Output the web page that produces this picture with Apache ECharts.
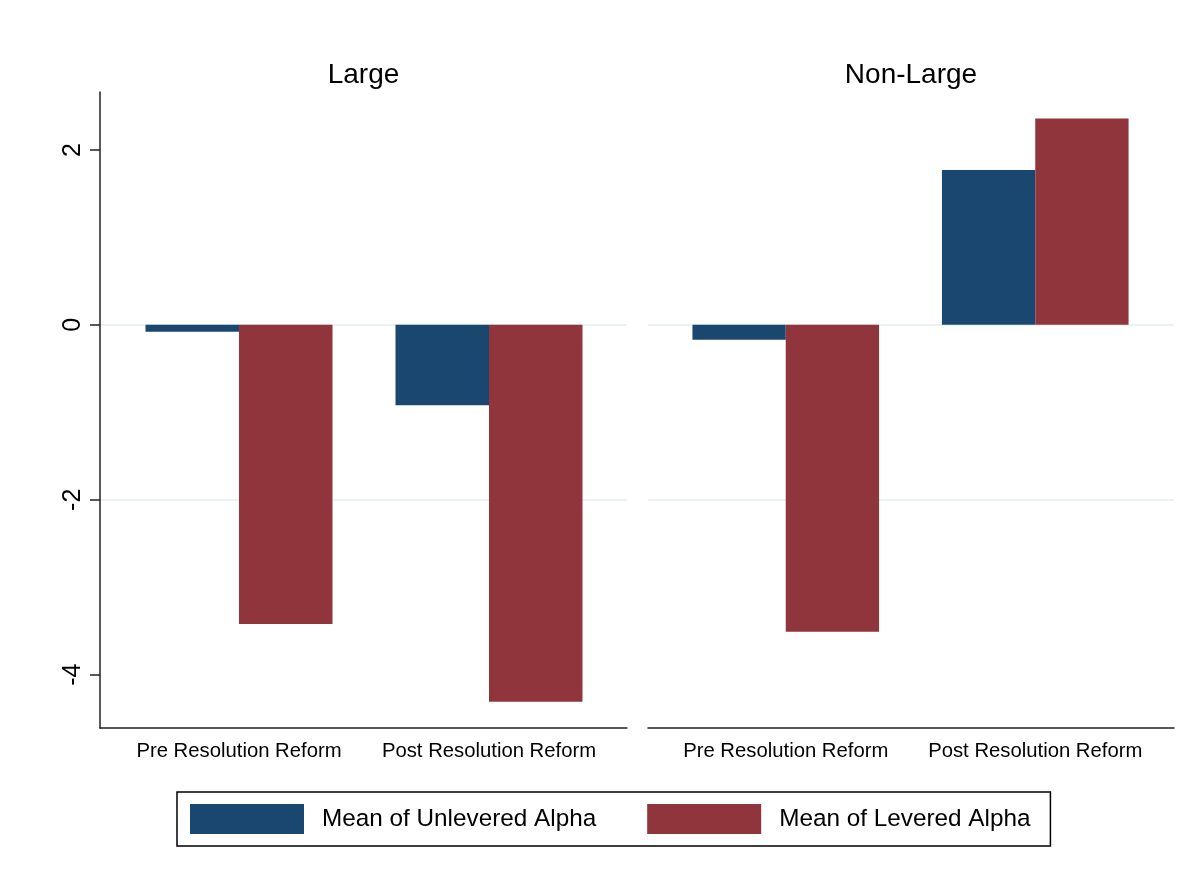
<!DOCTYPE html>
<html>
<head>
<meta charset="utf-8">
<script src="https://cdn.jsdelivr.net/npm/echarts@6/dist/echarts.min.js"></script>
<style>
  html, body { margin: 0; padding: 0; background: #fff; }
  #main { width: 1201px; height: 879px; }
</style>
</head>
<body>
<div id="main"></div>
<script>
// data
var panels = ['Large', 'Non-Large'];
var categories = ['Pre Resolution Reform', 'Post Resolution Reform'];
var seriesNames = ['Mean of Unlevered Alpha', 'Mean of Levered Alpha'];
var unleveredLarge = [-0.08, -0.92];
var leveredLarge = [-3.42, -4.31];
var unleveredNonLarge = [-0.17, 1.77];
var leveredNonLarge = [-3.51, 2.36];
var yTicks = [-4, -2, 0, 2];
var yMin = -4.61, yMax = 2.663;

var font = 'Arial, "Liberation Sans", sans-serif';
var blue = '#1a476f', red = '#90353b';
var gridColor = '#eaf2f3', axisColor = '#222';

var myChart = echarts.init(document.getElementById('main'));

// grid 0/2: frame, gridlines, axis lines; grid 1/3: bars (a bit narrower, like Stata's outer gaps)
var grids = [
    {left: 100, top: 92, width: 527, height: 636},
    {left: 114, top: 92, width: 500, height: 636},
    {left: 648, top: 92, width: 526, height: 636},
    {left: 661, top: 92, width: 499, height: 636}
];

function frameX(i) {
    return {
        type: 'category', gridIndex: i, data: categories,
        axisLine: {show: true, onZero: false, lineStyle: {color: axisColor, width: 1.5}},
        axisTick: {show: false},
        axisLabel: {show: false}
    };
}
function barX(i) {
    return {
        type: 'category', gridIndex: i, data: categories,
        axisLine: {show: false, onZero: false},
        axisTick: {show: false},
        axisLabel: {interval: 0, fontFamily: font, fontSize: 20.3, color: '#000', margin: 13}
    };
}
function frameY(i, withAxis) {
    return {
        type: 'value', gridIndex: i, min: yMin, max: yMax, splitNumber: 4,
        axisLine: {show: withAxis, lineStyle: {color: axisColor, width: 1.5}},
        axisTick: {show: withAxis, length: 10, customValues: yTicks, lineStyle: {color: axisColor, width: 1.5}},
        axisLabel: {show: withAxis, customValues: yTicks, rotate: 90, margin: 14,
            fontFamily: font, fontSize: 25, color: '#000'},
        splitLine: {show: true, showMinLine: false, showMaxLine: false,
            lineStyle: {color: gridColor, width: 2}}
    };
}
function barY(i) {
    return {
        type: 'value', gridIndex: i, min: yMin, max: yMax, splitNumber: 4,
        axisLine: {show: false}, axisTick: {show: false},
        axisLabel: {show: false}, splitLine: {show: false}
    };
}

function bars(name, data, idx, color) {
    return {
        name: name, type: 'bar', xAxisIndex: idx, yAxisIndex: idx,
        data: data, barGap: '0%', barCategoryGap: '25.2%',
        itemStyle: {color: color}
    };
}

var option = {
    animation: false,
    backgroundColor: '#fff',
    title: [
        {text: panels[0], left: 363.5, top: 61, padding: 0, textAlign: 'center',
         textStyle: {fontFamily: font, fontSize: 28, fontWeight: 'normal', color: '#000'}},
        {text: panels[1], left: 911, top: 61, padding: 0, textAlign: 'center',
         textStyle: {fontFamily: font, fontSize: 28, fontWeight: 'normal', color: '#000'}}
    ],
    legend: {
        data: seriesNames,
        left: 177, top: 792,
        orient: 'horizontal',
        icon: 'rect',
        itemWidth: 114, itemHeight: 30, itemGap: 51,
        padding: [12, 20, 12, 13],
        borderColor: '#000', borderWidth: 1.5,
        textStyle: {fontFamily: font, fontSize: 24.3, color: '#000', padding: [2, 0, 0, 13]}
    },
    grid: grids,
    xAxis: [frameX(0), barX(1), frameX(2), barX(3)],
    yAxis: [frameY(0, true), barY(1), frameY(2, false), barY(3)],
    series: [
        bars(seriesNames[0], unleveredLarge, 1, blue),
        bars(seriesNames[1], leveredLarge, 1, red),
        bars(seriesNames[0], unleveredNonLarge, 3, blue),
        bars(seriesNames[1], leveredNonLarge, 3, red)
    ]
};
myChart.setOption(option);
</script>
</body>
</html>
